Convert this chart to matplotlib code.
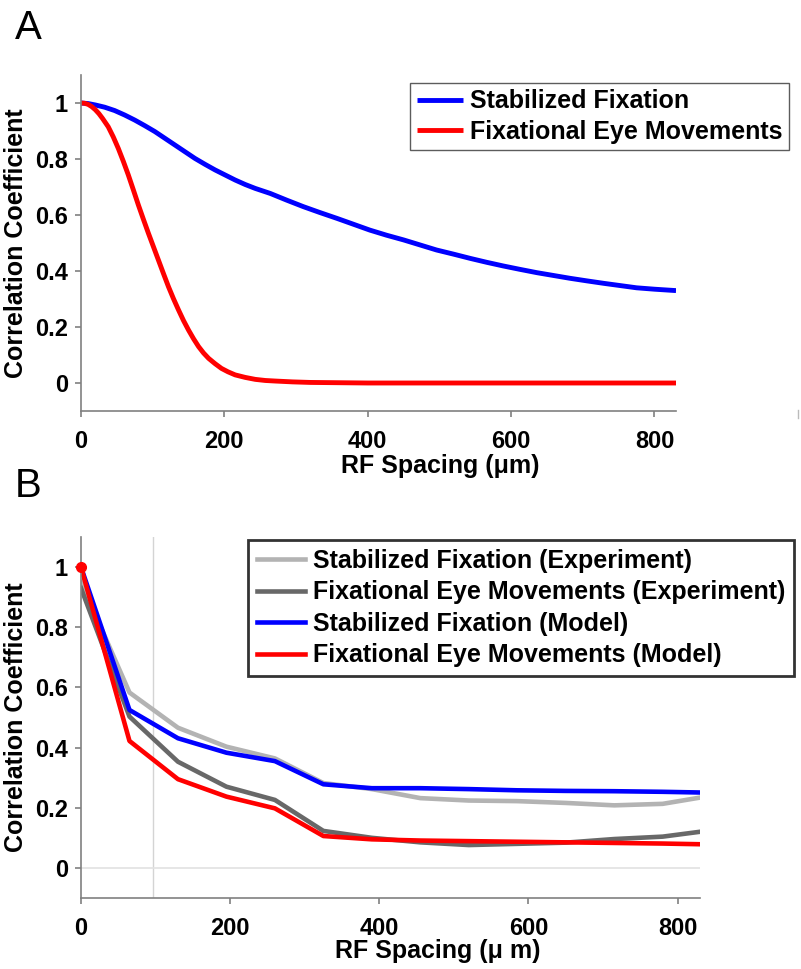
import matplotlib
matplotlib.use("Agg")
import matplotlib.pyplot as plt
from matplotlib.lines import Line2D

plt.rcParams['font.family'] = ['Liberation Sans', 'DejaVu Sans']
plt.rcParams['font.weight'] = 'bold'

# ---------------- Panel A data ----------------
a_x_stab = [0, 10, 20, 33, 47, 61, 75, 89, 103, 117, 131, 145, 159, 173, 187, 201, 215,
            229, 243, 264, 287, 310, 333, 357, 380, 403, 426, 450, 473, 496, 520, 543,
            566, 589, 612, 636, 659, 682, 705, 729, 752, 775, 800, 830]
a_y_stab = [1.0, 0.998, 0.993, 0.985, 0.973, 0.957, 0.939, 0.919, 0.898, 0.874, 0.85,
            0.826, 0.802, 0.781, 0.761, 0.743, 0.725, 0.709, 0.695, 0.677, 0.653, 0.630,
            0.609, 0.588, 0.567, 0.546, 0.528, 0.511, 0.493, 0.475, 0.460, 0.445, 0.431,
            0.418, 0.406, 0.394, 0.384, 0.374, 0.365, 0.356, 0.348, 0.340, 0.335, 0.330]

a_x_fem = [0, 5, 10, 15, 20, 25, 30, 38, 45, 52, 59, 66, 73, 80, 87, 94, 101, 108, 115,
           122, 129, 136, 143, 150, 157, 164, 171, 178, 187, 196, 205, 215, 229, 243, 257,
           271, 295, 320, 360, 400, 500, 600, 700, 830]
a_y_fem = [1.0, 0.999, 0.995, 0.987, 0.976, 0.962, 0.945, 0.915, 0.879, 0.838, 0.792,
           0.743, 0.690, 0.636, 0.585, 0.535, 0.487, 0.439, 0.391, 0.344, 0.301, 0.261,
           0.223, 0.189, 0.158, 0.130, 0.107, 0.088, 0.069, 0.052, 0.040, 0.029, 0.020,
           0.013, 0.009, 0.007, 0.004, 0.002, 0.001, 0.0, 0.0, 0.0, 0.0, 0.0]

# ---------------- Panel B data ----------------
b_x = [0, 65, 130, 195, 260, 325, 390, 455, 520, 585, 650, 715, 780, 845]
b_stab_exp = [0.95, 0.583, 0.466, 0.403, 0.364, 0.282, 0.262, 0.232, 0.224, 0.222, 0.216, 0.208, 0.213, 0.24]
b_fem_exp = [0.93, 0.503, 0.353, 0.270, 0.226, 0.123, 0.100, 0.085, 0.076, 0.080, 0.084, 0.096, 0.104, 0.125]
b_stab_mod = [1.0, 0.525, 0.431, 0.383, 0.355, 0.278, 0.265, 0.265, 0.262, 0.258, 0.256, 0.255, 0.253, 0.25]
b_fem_mod = [1.0, 0.422, 0.295, 0.237, 0.198, 0.106, 0.095, 0.091, 0.089, 0.087, 0.085, 0.083, 0.081, 0.078]

x_ticks = [0, 200, 400, 600, 800]
y_ticks = [0, 0.2, 0.4, 0.6, 0.8, 1.0]
y_ticklabels = ["0", "0.2", "0.4", "0.6", "0.8", "1"]

W, H = 801, 969
fig = plt.figure(figsize=(W / 100, H / 100), dpi=100)

def px_axes(l, r, t, b):
    return fig.add_axes([l / W, 1 - b / H, (r - l) / W, (b - t) / H])

TICK_FS = 17
LAB_FS = 18
LEG_FS = 18

def style(ax, l, r, t, b, xlab, xlab_cx, xlab_base):
    for s in ['top', 'right']:
        ax.spines[s].set_visible(False)
    for s in ['left', 'bottom']:
        ax.spines[s].set_color('#808080')
        ax.spines[s].set_linewidth(1.2)
    ax.set_xlim(0, 830)
    ax.set_ylim(-0.1, 1.1)
    ax.set_xticks(x_ticks)
    ax.set_xticklabels([str(t) for t in x_ticks])
    ax.set_yticks(y_ticks)
    ax.set_yticklabels(y_ticklabels)
    ax.tick_params(axis='both', direction='out', length=4, width=1.2, color='#808080',
                   labelsize=TICK_FS)
    ax.tick_params(axis='x', pad=9.5)
    ax.tick_params(axis='y', pad=5.3)
    for lab in ax.get_xticklabels() + ax.get_yticklabels():
        lab.set_fontweight('bold')
    ax.set_ylabel("Correlation Coefficient", fontsize=LAB_FS, fontweight='bold')
    ax.yaxis.set_label_coords((23 - l) / (r - l), 0.5)
    ax.yaxis.label.set_va('baseline')
    ax.set_xlabel(xlab, fontsize=LAB_FS, fontweight='bold')
    ax.xaxis.set_label_coords((xlab_cx - l) / (r - l), (b - xlab_base) / (b - t))
    ax.xaxis.label.set_va('baseline')

# ---------------- Panel A ----------------
axA = px_axes(81, 676, 75, 411)
style(axA, 81, 676, 75, 411, "RF Spacing (μm)", 440, 473)
axA.plot(a_x_stab, a_y_stab, color='#0000ff', lw=3.5, solid_capstyle='butt',
         solid_joinstyle='round', label="Stabilized Fixation")
axA.plot(a_x_fem, a_y_fem, color='#ff0000', lw=3.5, solid_capstyle='butt',
         solid_joinstyle='round', label="Fixational Eye Movements")
legA = fig.legend(*axA.get_legend_handles_labels(), loc='upper right',
                  bbox_to_anchor=(789 / W, 1 - 83 / H), fontsize=LEG_FS, frameon=True,
                  fancybox=False, edgecolor='#333333', handlelength=1.85, handletextpad=0.3,
                  borderpad=0.25, labelspacing=0.27, borderaxespad=0)
legA.get_frame().set_linewidth(1.0)
for t in legA.get_texts():
    t.set_fontweight('bold')

fig.text(15 / W, 1 - 39 / H, "A", fontsize=29, fontweight='normal', va='baseline', ha='left')

# small stray mark
fig.add_artist(Line2D([798 / W, 798 / W], [1 - 410 / H, 1 - 418 / H], color='#bbbbbb', lw=1))

# ---------------- Panel B ----------------
axB = px_axes(81, 700, 537, 898)
style(axB, 81, 700, 537, 898, "RF Spacing (μ m)", 438, 958)
axB.axvline(96, color='#d4d4d4', lw=1, zorder=0)
axB.axhline(0, color='#e2e2e2', lw=1.2, zorder=0)
axB.plot(b_x, b_stab_exp, color='#b3b3b3', lw=3.3, label="Stabilized Fixation (Experiment)")
axB.plot(b_x, b_fem_exp, color='#686868', lw=3.3, label="Fixational Eye Movements (Experiment)")
axB.plot(b_x, b_stab_mod, color='#0000ff', lw=3.3, label="Stabilized Fixation (Model)")
axB.plot(b_x, b_fem_mod, color='#ff0000', lw=3.3, label="Fixational Eye Movements (Model)")
axB.plot([b_x[0]], [b_fem_mod[0]], 'o', color='#ff0000', ms=7, clip_on=False, zorder=5)
legB = fig.legend(*axB.get_legend_handles_labels(), loc='upper right',
                  bbox_to_anchor=(794 / W, 1 - 540 / H), fontsize=LEG_FS, frameon=True,
                  fancybox=False, edgecolor='#000000', handlelength=1.95, handletextpad=0.3,
                  borderpad=0.35, labelspacing=0.3, borderaxespad=0)
legB.get_frame().set_linewidth(2.0)
for t in legB.get_texts():
    t.set_fontweight('bold')

fig.text(15 / W, 1 - 497 / H, "B", fontsize=29, fontweight='normal', va='baseline', ha='left')

fig.savefig("out.png", dpi=100)
